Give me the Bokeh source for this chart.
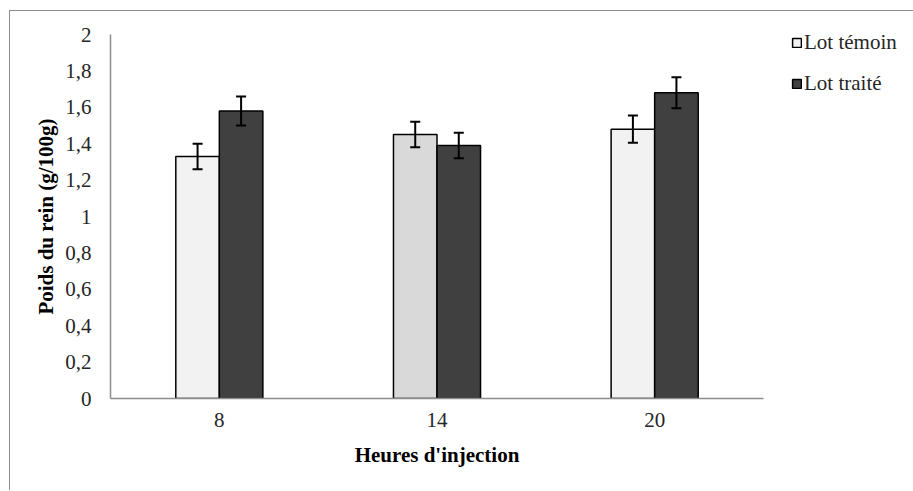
from bokeh.plotting import figure
from bokeh.models import (ColumnDataSource, FactorRange, Range1d, FixedTicker,
                          CustomJSTickFormatter, Legend, LegendItem, Whisker, TeeHead)
from bokeh.transform import dodge
from bokeh.embed import file_html
from bokeh.resources import INLINE

heures = ["8", "14", "20"]
temoin = [1.33, 1.45, 1.48]
traite = [1.58, 1.39, 1.68]
err_temoin = [0.07, 0.07, 0.075]
err_traite = [0.08, 0.07, 0.085]
temoin_colors = ["#f2f2f2", "#d9d9d9", "#f2f2f2"]
traite_colors = ["#404040", "#404040", "#404040"]
y_ticks = [0, 0.2, 0.4, 0.6, 0.8, 1.0, 1.2, 1.4, 1.6, 1.8, 2.0]

src = ColumnDataSource(data=dict(
    heures=heures, temoin=temoin, traite=traite,
    t_lo=[v - e for v, e in zip(temoin, err_temoin)],
    t_hi=[v + e for v, e in zip(temoin, err_temoin)],
    r_lo=[v - e for v, e in zip(traite, err_traite)],
    r_hi=[v + e for v, e in zip(traite, err_traite)],
    tc=temoin_colors, rc=traite_colors,
))

FONT = "Liberation Serif"
GRAY = "#8c8c8c"

p = figure(x_range=FactorRange(*heures), y_range=Range1d(0, 2),
           frame_width=653, frame_height=364,
           min_border_left=100, min_border_right=148,
           min_border_top=23, min_border_bottom=92,
           output_backend="svg", toolbar_location=None)
p.styles = {"margin-left": "9px", "margin-top": "10px",
            "border-left": "1.5px solid #8c8c8c", "border-top": "1.5px solid #8c8c8c"}

w = 0.2
b1 = p.vbar(x=dodge("heures", -0.1, range=p.x_range), top="temoin", width=w,
            source=src, fill_color="tc", line_color="black", line_width=1.5)
b2 = p.vbar(x=dodge("heures", 0.1, range=p.x_range), top="traite", width=w,
            source=src, fill_color="rc", line_color="black", line_width=1.5)

for base, lo, hi in [(-0.1, "t_lo", "t_hi"), (0.1, "r_lo", "r_hi")]:
    wk = Whisker(source=src, base=dodge("heures", base, range=p.x_range),
                 lower=lo, upper=hi, line_color="black", line_width=2,
                 level="overlay",
                 upper_head=TeeHead(size=10, line_width=2, line_color="black"),
                 lower_head=TeeHead(size=10, line_width=2, line_color="black"))
    p.add_layout(wk)

p.xgrid.visible = False
p.ygrid.visible = False
p.outline_line_color = None

p.yaxis.ticker = FixedTicker(ticks=y_ticks)
p.yaxis.formatter = CustomJSTickFormatter(code="""
    var s = (Math.round(tick*10)/10).toString();
    return s.replace('.', ',');
""")
p.yaxis.minor_tick_line_color = None
p.yaxis.major_tick_out = 6
p.yaxis.major_tick_in = 0
p.yaxis.major_label_standoff = 13
p.yaxis.axis_label = "Poids du rein (g/100g)"
p.yaxis.axis_label_standoff = 4

p.xaxis.major_tick_out = 0
p.xaxis.major_tick_in = 0
p.xaxis.major_label_standoff = 14
p.xaxis.axis_label = "Heures d'injection"
p.xaxis.axis_label_standoff = 13

for ax in (p.xaxis, p.yaxis):
    ax.axis_line_color = GRAY
    ax.axis_line_width = 1.5
    ax.major_tick_line_color = GRAY if ax is p.yaxis else None
    ax.major_tick_line_width = 1.5
    ax.major_label_text_font = FONT
    ax.major_label_text_font_size = "21px"
    ax.major_label_text_color = "#262626"
    ax.axis_label_text_font = FONT
    ax.axis_label_text_font_size = "21px"
    ax.axis_label_text_font_style = "bold"
    ax.axis_label_text_color = "black"

legend = Legend(items=[
    LegendItem(label="Lot témoin", renderers=[b1], index=0),
    LegendItem(label="Lot traité", renderers=[b2], index=0),
], location=(28, 302), orientation="vertical")
legend.padding = 0
legend.margin = 0
legend.border_line_color = None
legend.background_fill_alpha = 0
legend.glyph_width = 11
legend.glyph_height = 11
legend.label_standoff = 2
legend.label_height = 20
legend.spacing = 16
legend.label_text_font = FONT
legend.label_text_font_size = "21px"
legend.label_text_color = "#262626"
p.add_layout(legend, "right")

open("out.html", "w").write(file_html(p, INLINE))
